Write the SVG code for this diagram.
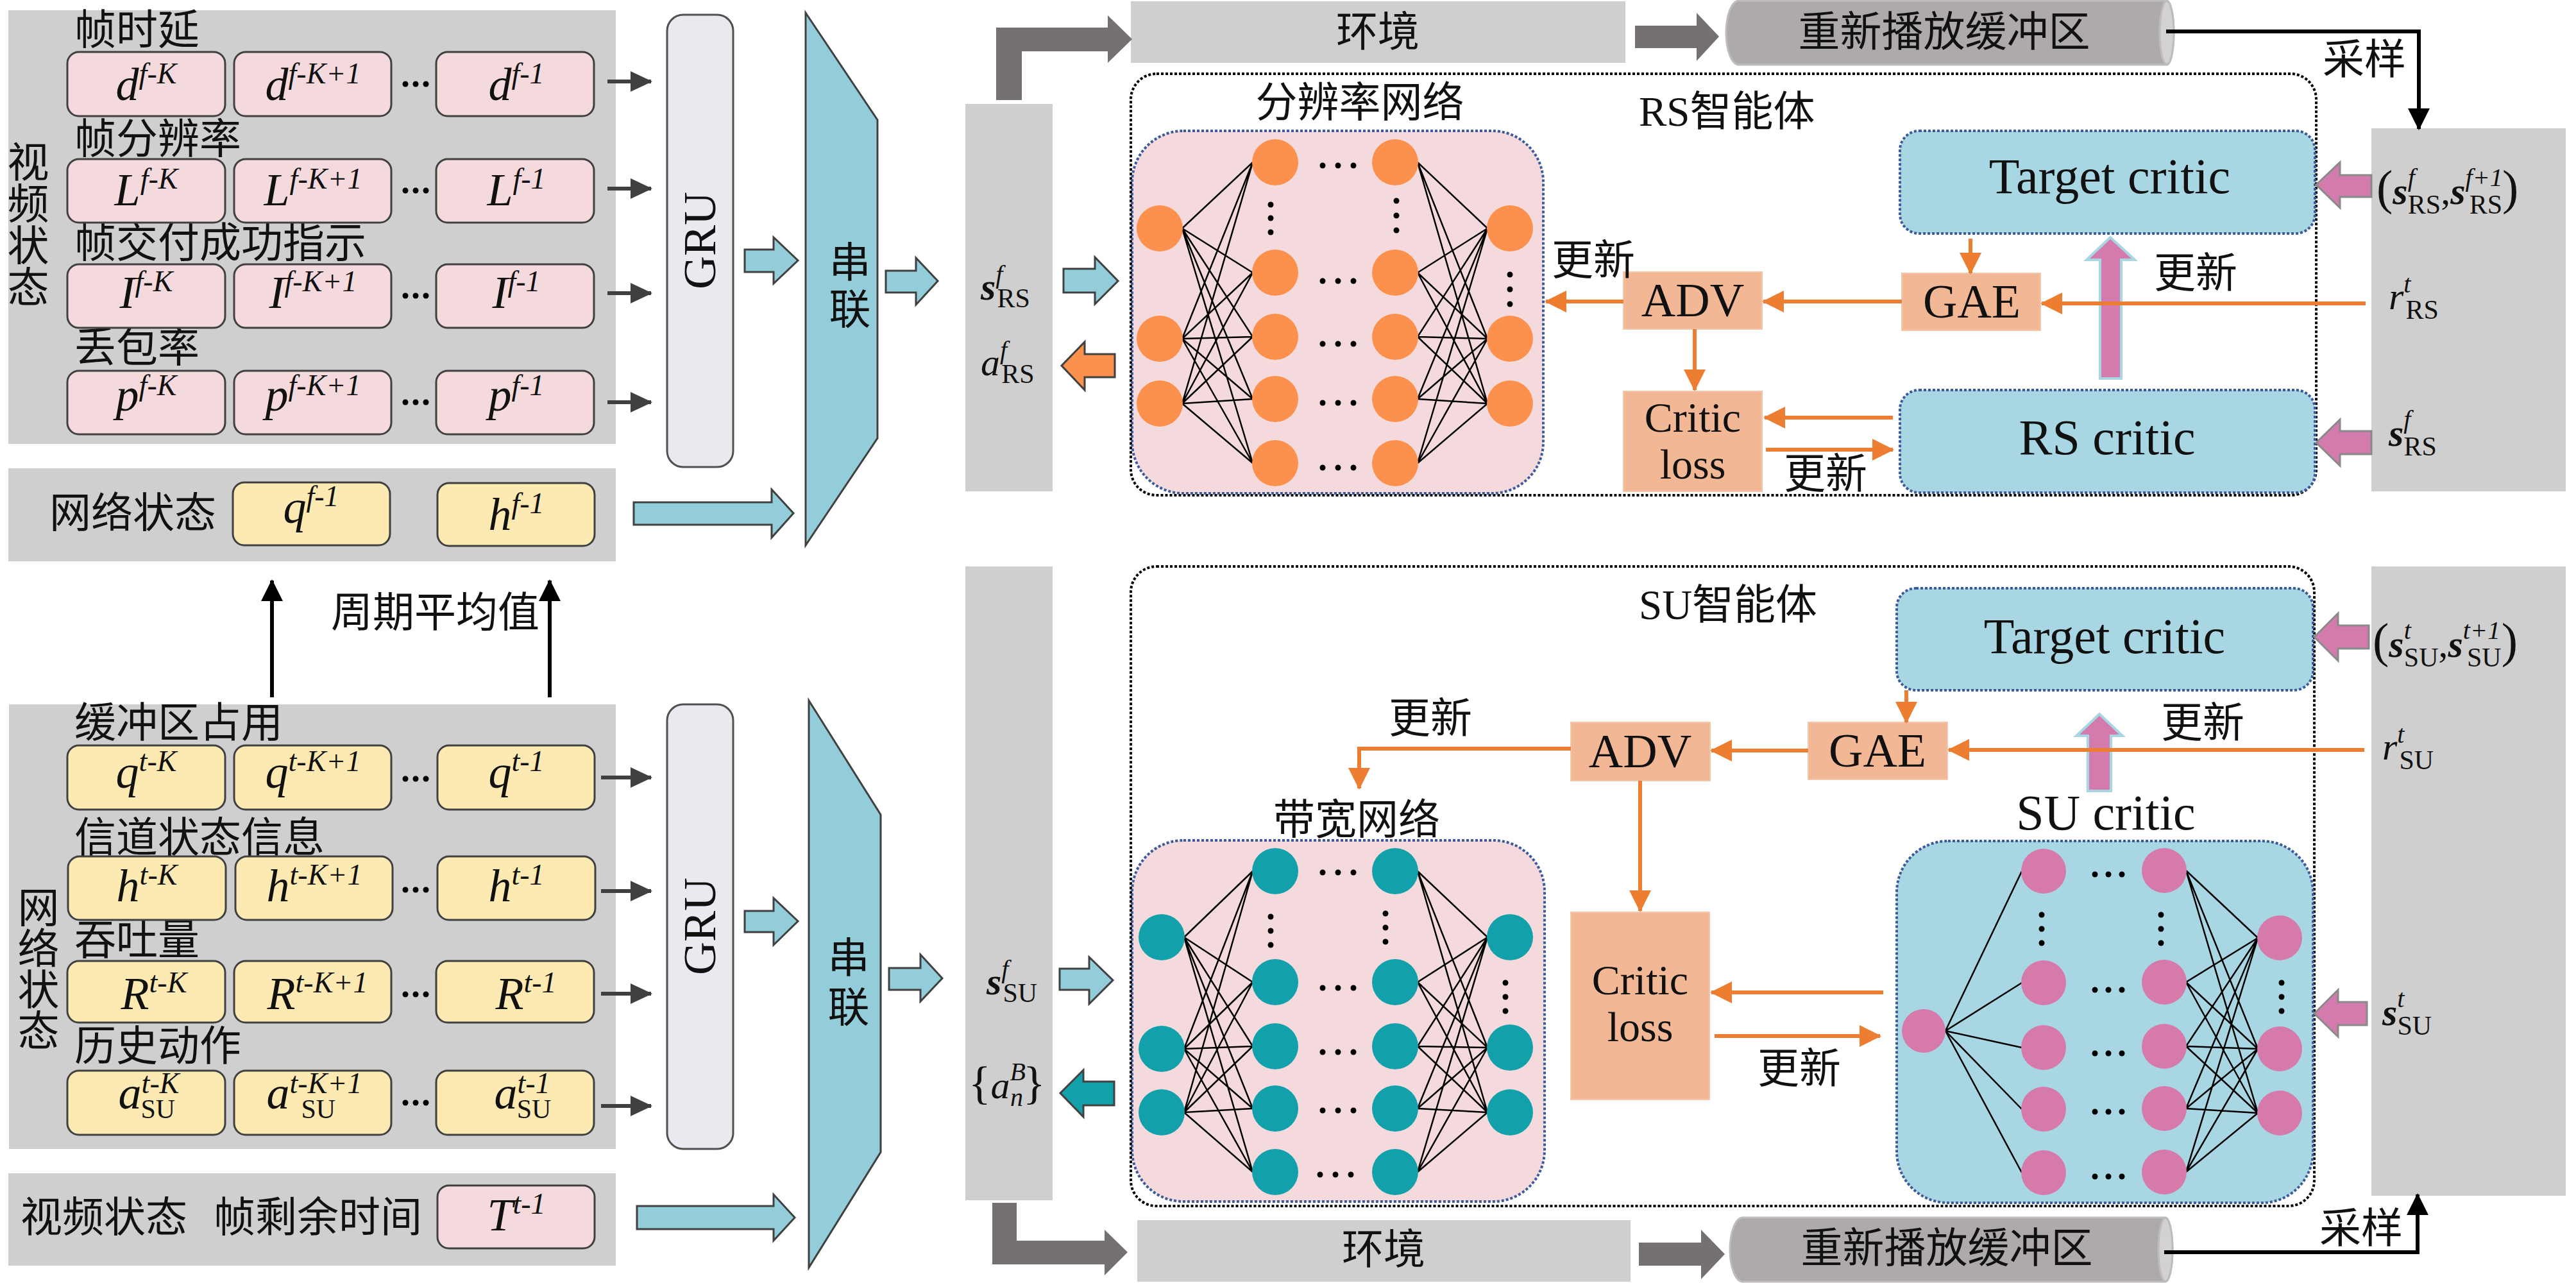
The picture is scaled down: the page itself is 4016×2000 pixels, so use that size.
<svg xmlns="http://www.w3.org/2000/svg" width="4016" height="2000" viewBox="0 0 4016 2000">
<defs>
<style>
.pn{fill:#d0cfd0}
.bp{fill:#f4dadd;stroke:#404040;stroke-width:3}
.by{fill:#fdeab3;stroke:#404040;stroke-width:3}
.gru{fill:#ece8ef;stroke:#505050;stroke-width:3}
.cn{font-family:"Liberation Serif","Noto Sans CJK SC",serif;font-size:65px;fill:#111}
.lat{font-family:"Liberation Serif","Noto Sans CJK SC",serif;fill:#111}
.m{font-family:"Liberation Serif",serif;font-size:72px;font-style:italic;fill:#111}
.m2{font-family:"Liberation Serif",serif;font-size:60px;font-style:italic;fill:#111}
.sp{font-size:46px}
.sp2{font-size:40px}
.sb{font-size:42px;font-style:normal}
.up{font-style:normal}
.ca{fill:#93cdd9;stroke:#404040;stroke-width:3}
.dg{fill:#767171}
.ar{stroke:#404040;stroke-width:6;fill:none;marker-end:url(#ah)}
.bk{stroke:#000;stroke-width:6;fill:none;marker-end:url(#bh)}
.oc{stroke:#ed7d31;stroke-width:6;fill:none;marker-end:url(#oh)}
.ob{fill:#f2b896;stroke:#f4c7aa;stroke-width:2}
.tc{fill:#a8d7e3;stroke:#3c5a9a;stroke-width:4;stroke-dasharray:4 3}
.nnp{fill:#f4dadd;stroke:#3c5a9a;stroke-width:4;stroke-dasharray:4 3}
.ag{fill:none;stroke:#000;stroke-width:4;stroke-dasharray:4 3}
.no{fill:#fb914c}
.nt{fill:#12a0ab}
.nk{fill:#d57aaa}
.nl{stroke:#000;stroke-width:2.5;fill:none}
.pa{fill:#d47bad;stroke:#8a8a8a;stroke-width:3}
.pu{fill:#d47bad;stroke:#a8d7e3;stroke-width:4}
.cyl{fill:#aeaaaa;stroke:#bdbdbd;stroke-width:3}
.cap{fill:#d3d1d1;stroke:#bdbdbd;stroke-width:3}
</style>
<marker id="ah" markerUnits="userSpaceOnUse" markerWidth="34" markerHeight="32" refX="32" refY="16" orient="auto"><path d="M0,0L34,16L0,32Z" fill="#404040"/></marker>
<marker id="bh" markerUnits="userSpaceOnUse" markerWidth="34" markerHeight="34" refX="32" refY="17" orient="auto"><path d="M0,0L34,17L0,34Z" fill="#000"/></marker>
<marker id="oh" markerUnits="userSpaceOnUse" markerWidth="34" markerHeight="34" refX="32" refY="17" orient="auto"><path d="M0,0L34,17L0,34Z" fill="#ed7d31"/></marker>
</defs>
<rect width="4016" height="2000" fill="#fff"/>

<!-- ===== Left top: video state panel ===== -->
<g id="video-state-panel">
<rect class="pn" x="13" y="16" width="947" height="676"/>
<text class="cn" text-anchor="middle"><tspan x="44" y="276">视</tspan><tspan x="44" y="341">频</tspan><tspan x="44" y="406">状</tspan><tspan x="44" y="471">态</tspan></text>
<text class="cn" x="116" y="69">帧时延</text>
<text class="cn" x="116" y="239">帧分辨率</text>
<text class="cn" x="116" y="401">帧交付成功指示</text>
<text class="cn" x="116" y="564">丢包率</text>
</g>
<g id="row-d">
<rect class="bp" x="105" y="81" width="246" height="100" rx="18"/>
<rect class="bp" x="365" y="81" width="245" height="100" rx="18"/>
<rect class="bp" x="680" y="81" width="246" height="100" rx="18"/>
<text class="m" x="228" y="156" text-anchor="middle">d<tspan class="sp" dy="-26">f-K</tspan></text>
<text class="m" x="488" y="156" text-anchor="middle">d<tspan class="sp" dy="-26">f-K+1</tspan></text>
<text class="m" x="805" y="156" text-anchor="middle">d<tspan class="sp" dy="-26">f-1</tspan></text>
<circle cx="632" cy="131" r="4.5"/><circle cx="648" cy="131" r="4.5"/><circle cx="664" cy="131" r="4.5"/>
</g>
<g id="row-L">
<rect class="bp" x="105" y="248" width="246" height="99" rx="18"/>
<rect class="bp" x="365" y="248" width="245" height="99" rx="18"/>
<rect class="bp" x="680" y="248" width="246" height="99" rx="18"/>
<text class="m" x="228" y="320" text-anchor="middle">L<tspan class="sp" dy="-26">f-K</tspan></text>
<text class="m" x="488" y="320" text-anchor="middle">L<tspan class="sp" dy="-26">f-K+1</tspan></text>
<text class="m" x="805" y="320" text-anchor="middle">L<tspan class="sp" dy="-26">f-1</tspan></text>
<circle cx="632" cy="297" r="4.5"/><circle cx="648" cy="297" r="4.5"/><circle cx="664" cy="297" r="4.5"/>
</g>
<g id="row-I">
<rect class="bp" x="105" y="412" width="246" height="99" rx="18"/>
<rect class="bp" x="365" y="412" width="245" height="99" rx="18"/>
<rect class="bp" x="680" y="412" width="246" height="99" rx="18"/>
<text class="m" x="228" y="480" text-anchor="middle">I<tspan class="sp" dy="-26">f-K</tspan></text>
<text class="m" x="488" y="480" text-anchor="middle">I<tspan class="sp" dy="-26">f-K+1</tspan></text>
<text class="m" x="805" y="480" text-anchor="middle">I<tspan class="sp" dy="-26">f-1</tspan></text>
<circle cx="632" cy="461" r="4.5"/><circle cx="648" cy="461" r="4.5"/><circle cx="664" cy="461" r="4.5"/>
</g>
<g id="row-p">
<rect class="bp" x="105" y="578" width="246" height="99" rx="18"/>
<rect class="bp" x="365" y="578" width="245" height="99" rx="18"/>
<rect class="bp" x="680" y="578" width="246" height="99" rx="18"/>
<text class="m" x="228" y="640" text-anchor="middle">p<tspan class="sp" dy="-24">f-K</tspan></text>
<text class="m" x="488" y="640" text-anchor="middle">p<tspan class="sp" dy="-24">f-K+1</tspan></text>
<text class="m" x="805" y="640" text-anchor="middle">p<tspan class="sp" dy="-24">f-1</tspan></text>
<circle cx="632" cy="627" r="4.5"/><circle cx="648" cy="627" r="4.5"/><circle cx="664" cy="627" r="4.5"/>
</g>

<!-- network state (top) -->
<g id="net-state-top">
<rect class="pn" x="13" y="730" width="947" height="145"/>
<text class="cn" x="77" y="822">网络状态</text>
<rect class="by" x="363" y="752" width="245" height="98" rx="18"/>
<rect class="by" x="682" y="753" width="245" height="98" rx="18"/>
<text class="m" x="485" y="815" text-anchor="middle">q<tspan class="sp" dy="-26">f-1</tspan></text>
<text class="m" x="805" y="826" text-anchor="middle">h<tspan class="sp" dy="-26">f-1</tspan></text>
</g>

<g id="avg-label">
<text class="cn" x="516" y="977">周期平均值</text>
</g>

<!-- ===== Left bottom: network state panel ===== -->
<g id="net-state-panel">
<rect class="pn" x="14" y="1098" width="946" height="693"/>
<text class="cn" text-anchor="middle"><tspan x="60" y="1438">网</tspan><tspan x="60" y="1502">络</tspan><tspan x="60" y="1566">状</tspan><tspan x="60" y="1630">态</tspan></text>
<text class="cn" x="116" y="1149">缓冲区占用</text>
<text class="cn" x="116" y="1328">信道状态信息</text>
<text class="cn" x="116" y="1488">吞吐量</text>
<text class="cn" x="116" y="1653">历史动作</text>
</g>
<g id="row-q">
<rect class="by" x="105" y="1162" width="246" height="100" rx="18"/>
<rect class="by" x="365" y="1162" width="245" height="100" rx="18"/>
<rect class="by" x="682" y="1162" width="245" height="100" rx="18"/>
<text class="m" x="228" y="1228" text-anchor="middle">q<tspan class="sp" dy="-26">t-K</tspan></text>
<text class="m" x="488" y="1228" text-anchor="middle">q<tspan class="sp" dy="-26">t-K+1</tspan></text>
<text class="m" x="805" y="1228" text-anchor="middle">q<tspan class="sp" dy="-26">t-1</tspan></text>
<circle cx="632" cy="1214" r="4.5"/><circle cx="648" cy="1214" r="4.5"/><circle cx="664" cy="1214" r="4.5"/>
</g>
<g id="row-h">
<rect class="by" x="106" y="1335" width="246" height="99" rx="18"/>
<rect class="by" x="367" y="1335" width="245" height="99" rx="18"/>
<rect class="by" x="682" y="1335" width="246" height="99" rx="18"/>
<text class="m" x="229" y="1405" text-anchor="middle">h<tspan class="sp" dy="-26">t-K</tspan></text>
<text class="m" x="490" y="1405" text-anchor="middle">h<tspan class="sp" dy="-26">t-K+1</tspan></text>
<text class="m" x="805" y="1405" text-anchor="middle">h<tspan class="sp" dy="-26">t-1</tspan></text>
<circle cx="632" cy="1387" r="4.5"/><circle cx="648" cy="1387" r="4.5"/><circle cx="664" cy="1387" r="4.5"/>
</g>
<g id="row-R">
<rect class="by" x="105" y="1498" width="246" height="96" rx="18"/>
<rect class="by" x="365" y="1498" width="245" height="96" rx="18"/>
<rect class="by" x="680" y="1498" width="246" height="96" rx="18"/>
<text class="m" x="240" y="1573" text-anchor="middle">R<tspan class="sp" dy="-26">t-K</tspan></text>
<text class="m" x="495" y="1573" text-anchor="middle">R<tspan class="sp" dy="-26">t-K+1</tspan></text>
<text class="m" x="820" y="1573" text-anchor="middle">R<tspan class="sp" dy="-26">t-1</tspan></text>
<circle cx="632" cy="1550" r="4.5"/><circle cx="648" cy="1550" r="4.5"/><circle cx="664" cy="1550" r="4.5"/>
</g>
<g id="row-a">
<rect class="by" x="105" y="1669" width="246" height="100" rx="18"/>
<rect class="by" x="365" y="1669" width="245" height="100" rx="18"/>
<rect class="by" x="680" y="1669" width="246" height="100" rx="18"/>
<text class="m" x="232" y="1728" text-anchor="middle">a<tspan class="sp" dy="-24">t-K</tspan><tspan class="sb" dx="-60" dy="39">SU</tspan></text>
<text class="m" x="490" y="1728" text-anchor="middle">a<tspan class="sp" dy="-24">t-K+1</tspan><tspan class="sb" dx="-95" dy="39">SU</tspan></text>
<text class="m" x="815" y="1728" text-anchor="middle">a<tspan class="sp" dy="-24">t-1</tspan><tspan class="sb" dx="-52" dy="39">SU</tspan></text>
<circle cx="632" cy="1719" r="4.5"/><circle cx="648" cy="1719" r="4.5"/><circle cx="664" cy="1719" r="4.5"/>
</g>

<g id="video-state-bottom">
<rect class="pn" x="13" y="1829" width="947" height="144"/>
<text class="cn" x="32" y="1920">视频状态</text>
<text class="cn" x="333" y="1920">帧剩余时间</text>
<rect class="bp" x="682" y="1848" width="245" height="98" rx="18"/>
<text class="m" x="805" y="1918" text-anchor="middle">T<tspan class="sp" dy="-26">t-1</tspan></text>
</g>

<!-- GRU -->
<g id="gru-top">
<rect class="gru" x="1040" y="23" width="103" height="705" rx="25"/>
<text class="lat" font-size="72" text-anchor="middle" transform="translate(1115,375) rotate(-90)">GRU</text>
</g>
<g id="gru-bottom">
<rect class="gru" x="1040" y="1098" width="103" height="693" rx="25"/>
<text class="lat" font-size="72" text-anchor="middle" transform="translate(1115,1444) rotate(-90)">GRU</text>
</g>

<!-- Concat -->
<g id="concat-top">
<polygon class="ca" points="1256,20 1368,187 1368,683 1256,850"/>
<text class="cn" font-size="66" text-anchor="middle"><tspan x="1325" y="432">串</tspan><tspan x="1325" y="505">联</tspan></text>
</g>
<g id="concat-bottom">
<polygon class="ca" points="1261,1092 1373,1270 1373,1796 1261,1976"/>
<text class="cn" font-size="66" text-anchor="middle"><tspan x="1323" y="1516">串</tspan><tspan x="1323" y="1593">联</tspan></text>
</g>

<!-- State columns -->
<g id="state-rs">
<rect class="pn" x="1505" y="162" width="136" height="604"/>
<text class="m2" x="1529" y="467"><tspan font-weight="bold">s</tspan><tspan class="sp2" dy="-26">f</tspan><tspan class="sb" dx="-9" dy="38">RS</tspan></text>
<text class="m2" x="1529" y="585">a<tspan class="sp2" dy="-26">f</tspan><tspan class="sb" dx="-9" dy="38">RS</tspan></text>
</g>
<g id="state-su">
<rect class="pn" x="1505" y="883" width="136" height="988"/>
<text class="m2" x="1538" y="1550"><tspan font-weight="bold">s</tspan><tspan class="sp2" dy="-26">f</tspan><tspan class="sb" dx="-9" dy="38">SU</tspan></text>
<text class="m2" x="1510" y="1712"><tspan class="up" font-size="72">{</tspan>a<tspan class="sp2" dy="-28">B</tspan><tspan class="sp2" dx="-24" dy="40">n</tspan><tspan class="up" font-size="72" dy="-12">}</tspan></text>
</g>

<!-- Environment & replay buffers -->
<g id="env-top">
<rect class="pn" x="1763" y="2" width="771" height="96"/>
<text class="cn" x="2148" y="72" text-anchor="middle">环境</text>
</g>
<g id="buffer-top">
<path class="cyl" d="M2711,1 H3378 A11,50 0 0 1 3378,101 H2711 A20,50 0 0 1 2711,1 Z"/>
<ellipse class="cap" cx="3378" cy="51" rx="11" ry="49"/>
<text class="cn" x="3031" y="72" text-anchor="middle">重新播放缓冲区</text>
</g>
<g id="env-bottom">
<rect class="pn" x="1773" y="1902" width="769" height="96"/>
<text class="cn" x="2157" y="1970" text-anchor="middle">环境</text>
</g>
<g id="buffer-bottom">
<path class="cyl" d="M2717,1898 H3376 A11,50 0 0 1 3376,1998 H2717 A20,50 0 0 1 2717,1898 Z"/>
<ellipse class="cap" cx="3376" cy="1948" rx="11" ry="49"/>
<text class="cn" x="3035" y="1968" text-anchor="middle">重新播放缓冲区</text>
</g>
<text class="cn" x="3621" y="115">采样</text>
<text class="cn" x="3616" y="1937">采样</text>

<!-- Right sample columns -->
<g id="sample-rs">
<rect class="pn" x="3697" y="200" width="303" height="566"/>
<text class="m2" x="3705" y="318"><tspan class="up" font-size="76">(</tspan><tspan font-weight="bold">s</tspan><tspan class="sp2" dy="-28">f</tspan><tspan class="sb" dx="-11" dy="43">RS</tspan><tspan class="up" dy="-15">,</tspan><tspan font-weight="bold">s</tspan><tspan class="sp2" dy="-28">f+1</tspan><tspan class="sb" dx="-52" dy="43">RS</tspan><tspan class="up" font-size="76" dy="-15">)</tspan></text>
<text class="m2" x="3724" y="482">r<tspan class="sp2" dy="-26">t</tspan><tspan class="sb" dx="-8" dy="41">RS</tspan></text>
<text class="m2" x="3724" y="695"><tspan font-weight="bold">s</tspan><tspan class="sp2" dy="-28">f</tspan><tspan class="sb" dx="-11" dy="43">RS</tspan></text>
</g>
<g id="sample-su">
<rect class="pn" x="3697" y="883" width="303" height="981"/>
<text class="m2" x="3699" y="1024"><tspan class="up" font-size="76">(</tspan><tspan font-weight="bold">s</tspan><tspan class="sp2" dy="-28">t</tspan><tspan class="sb" dx="-11" dy="43">SU</tspan><tspan class="up" dy="-15">,</tspan><tspan font-weight="bold">s</tspan><tspan class="sp2" dy="-28">t+1</tspan><tspan class="sb" dx="-52" dy="43">SU</tspan><tspan class="up" font-size="76" dy="-15">)</tspan></text>
<text class="m2" x="3714" y="1184">r<tspan class="sp2" dy="-26">t</tspan><tspan class="sb" dx="-8" dy="41">SU</tspan></text>
<text class="m2" x="3714" y="1598"><tspan font-weight="bold">s</tspan><tspan class="sp2" dy="-28">t</tspan><tspan class="sb" dx="-11" dy="43">SU</tspan></text>
</g>

<!-- ===== RS agent ===== -->
<g id="rs-agent">
<rect class="ag" x="1763" y="115" width="1848" height="657" rx="40"/>
<text class="cn" x="2555" y="196">RS智能体</text>
</g>
<g id="rs-net">
<text class="cn" x="2120" y="182" text-anchor="middle">分辨率网络</text>
<rect class="nnp" x="1765" y="204" width="641" height="565" rx="80"/>
<path class="nl" d="M1843 356L1953 253M1843 356L1953 425M1843 356L1953 525M1843 356L1953 622M1843 356L1953 722M1843 528L1953 253M1843 528L1953 425M1843 528L1953 525M1843 528L1953 622M1843 528L1953 722M1843 629L1953 253M1843 629L1953 425M1843 629L1953 525M1843 629L1953 622M1843 629L1953 722M2210 253L2319 356M2210 425L2319 356M2210 525L2319 356M2210 622L2319 356M2210 722L2319 356M2210 253L2319 528M2210 425L2319 528M2210 525L2319 528M2210 622L2319 528M2210 722L2319 528M2210 253L2319 629M2210 425L2319 629M2210 525L2319 629M2210 622L2319 629M2210 722L2319 629"/>
<g class="no">
<circle cx="1808" cy="356" r="36"/><circle cx="1808" cy="528" r="36"/><circle cx="1808" cy="629" r="36"/>
<circle cx="1988" cy="253" r="36"/><circle cx="1988" cy="425" r="36"/><circle cx="1988" cy="525" r="36"/><circle cx="1988" cy="622" r="36"/><circle cx="1988" cy="722" r="36"/>
<circle cx="2175" cy="253" r="36"/><circle cx="2175" cy="425" r="36"/><circle cx="2175" cy="525" r="36"/><circle cx="2175" cy="622" r="36"/><circle cx="2175" cy="722" r="36"/>
<circle cx="2354" cy="356" r="36"/><circle cx="2354" cy="528" r="36"/><circle cx="2354" cy="629" r="36"/>
</g>
<g fill="#000">
<circle cx="2062" cy="258" r="4.5"/><circle cx="2086" cy="258" r="4.5"/><circle cx="2110" cy="258" r="4.5"/>
<circle cx="2062" cy="438" r="4.5"/><circle cx="2086" cy="438" r="4.5"/><circle cx="2110" cy="438" r="4.5"/>
<circle cx="2062" cy="536" r="4.5"/><circle cx="2086" cy="536" r="4.5"/><circle cx="2110" cy="536" r="4.5"/>
<circle cx="2062" cy="628" r="4.5"/><circle cx="2086" cy="628" r="4.5"/><circle cx="2110" cy="628" r="4.5"/>
<circle cx="2062" cy="729" r="4.5"/><circle cx="2086" cy="729" r="4.5"/><circle cx="2110" cy="729" r="4.5"/>
<circle cx="1981" cy="319" r="4.5"/><circle cx="1981" cy="340" r="4.5"/><circle cx="1981" cy="362" r="4.5"/>
<circle cx="2177" cy="313" r="4.5"/><circle cx="2177" cy="336" r="4.5"/><circle cx="2177" cy="359" r="4.5"/>
<circle cx="2354" cy="428" r="4.5"/><circle cx="2354" cy="451" r="4.5"/><circle cx="2354" cy="474" r="4.5"/>
</g>
</g>
<g id="rs-target-critic">
<rect class="tc" x="2962" y="204" width="647" height="160" rx="30"/>
<text class="lat" font-size="78" x="3289" y="301" text-anchor="middle">Target critic</text>
</g>
<g id="rs-critic">
<rect class="tc" x="2962" y="608" width="647" height="160" rx="30"/>
<text class="lat" font-size="78" x="3285" y="708" text-anchor="middle">RS critic</text>
</g>
<g id="rs-gae">
<rect class="ob" x="2965" y="426" width="216" height="89"/>
<text class="lat" font-size="74" x="3074" y="495" text-anchor="middle">GAE</text>
</g>
<g id="rs-adv">
<rect class="ob" x="2531" y="424" width="216" height="89"/>
<text class="lat" font-size="74" x="2639" y="493" text-anchor="middle">ADV</text>
</g>
<g id="rs-critic-loss">
<rect class="ob" x="2531" y="610" width="216" height="156"/>
<text class="lat" font-size="66" text-anchor="middle"><tspan x="2639" y="673">Critic</tspan><tspan x="2639" y="746">loss</tspan></text>
</g>

<!-- ===== SU agent ===== -->
<g id="su-agent">
<rect class="ag" x="1763" y="883" width="1845" height="997" rx="40"/>
<text class="cn" x="2555" y="965">SU智能体</text>
</g>
<g id="su-net">
<text class="cn" x="2115" y="1300" text-anchor="middle">带宽网络</text>
<rect class="nnp" x="1765" y="1310" width="643" height="563" rx="80"/>
<path class="nl" d="M1846 1461L1953 1358M1846 1461L1953 1531M1846 1461L1953 1631M1846 1461L1953 1728M1846 1461L1953 1827M1846 1635L1953 1358M1846 1635L1953 1531M1846 1635L1953 1631M1846 1635L1953 1728M1846 1635L1953 1827M1846 1734L1953 1358M1846 1734L1953 1531M1846 1734L1953 1631M1846 1734L1953 1728M1846 1734L1953 1827M2210 1358L2319 1461M2210 1531L2319 1461M2210 1631L2319 1461M2210 1728L2319 1461M2210 1827L2319 1461M2210 1358L2319 1633M2210 1531L2319 1633M2210 1631L2319 1633M2210 1728L2319 1633M2210 1827L2319 1633M2210 1358L2319 1734M2210 1531L2319 1734M2210 1631L2319 1734M2210 1728L2319 1734M2210 1827L2319 1734"/>
<g class="nt">
<circle cx="1811" cy="1461" r="36"/><circle cx="1811" cy="1635" r="36"/><circle cx="1811" cy="1734" r="36"/>
<circle cx="1988" cy="1358" r="36"/><circle cx="1988" cy="1531" r="36"/><circle cx="1988" cy="1631" r="36"/><circle cx="1988" cy="1728" r="36"/><circle cx="1988" cy="1827" r="36"/>
<circle cx="2175" cy="1358" r="36"/><circle cx="2175" cy="1531" r="36"/><circle cx="2175" cy="1631" r="36"/><circle cx="2175" cy="1728" r="36"/><circle cx="2175" cy="1827" r="36"/>
<circle cx="2354" cy="1461" r="36"/><circle cx="2354" cy="1633" r="36"/><circle cx="2354" cy="1734" r="36"/>
</g>
<g fill="#000">
<circle cx="2062" cy="1360" r="4.5"/><circle cx="2086" cy="1360" r="4.5"/><circle cx="2110" cy="1360" r="4.5"/>
<circle cx="2062" cy="1540" r="4.5"/><circle cx="2086" cy="1540" r="4.5"/><circle cx="2110" cy="1540" r="4.5"/>
<circle cx="2062" cy="1640" r="4.5"/><circle cx="2086" cy="1640" r="4.5"/><circle cx="2110" cy="1640" r="4.5"/>
<circle cx="2062" cy="1731" r="4.5"/><circle cx="2086" cy="1731" r="4.5"/><circle cx="2110" cy="1731" r="4.5"/>
<circle cx="2058" cy="1831" r="4.5"/><circle cx="2082" cy="1831" r="4.5"/><circle cx="2106" cy="1831" r="4.5"/>
<circle cx="1981" cy="1429" r="4.5"/><circle cx="1981" cy="1451" r="4.5"/><circle cx="1981" cy="1473" r="4.5"/>
<circle cx="2160" cy="1424" r="4.5"/><circle cx="2160" cy="1446" r="4.5"/><circle cx="2160" cy="1468" r="4.5"/>
<circle cx="2347" cy="1532" r="4.5"/><circle cx="2347" cy="1554" r="4.5"/><circle cx="2347" cy="1576" r="4.5"/>
</g>
</g>
<g id="su-target-critic">
<rect class="tc" x="2957" y="917" width="649" height="159" rx="30"/>
<text class="lat" font-size="78" x="3281" y="1018" text-anchor="middle">Target critic</text>
</g>
<g id="su-gae">
<rect class="ob" x="2819" y="1126" width="217" height="89"/>
<text class="lat" font-size="74" x="2927" y="1195" text-anchor="middle">GAE</text>
</g>
<g id="su-adv">
<rect class="ob" x="2449" y="1126" width="217" height="91"/>
<text class="lat" font-size="74" x="2557" y="1196" text-anchor="middle">ADV</text>
</g>
<g id="su-critic-loss">
<rect class="ob" x="2449" y="1422" width="216" height="292"/>
<text class="lat" font-size="66" text-anchor="middle"><tspan x="2557" y="1550">Critic</tspan><tspan x="2557" y="1623">loss</tspan></text>
</g>
<g id="su-critic">
<text class="lat" font-size="78" x="3283" y="1293" text-anchor="middle">SU critic</text>
<rect class="tc" x="2957" y="1311" width="649" height="564" rx="80"/>
<path class="nl" d="M3033 1607L3152 1358M3033 1607L3152 1532M3033 1607L3152 1633M3033 1607L3152 1729M3033 1607L3152 1828M3408 1357L3520 1462M3408 1531L3520 1462M3408 1631L3520 1462M3408 1728L3520 1462M3408 1827L3520 1462M3408 1357L3520 1635M3408 1531L3520 1635M3408 1631L3520 1635M3408 1728L3520 1635M3408 1827L3520 1635M3408 1357L3520 1735M3408 1531L3520 1735M3408 1631L3520 1735M3408 1728L3520 1735M3408 1827L3520 1735"/>
<g class="nk">
<circle cx="2999" cy="1607" r="34"/>
<circle cx="3186" cy="1358" r="35"/><circle cx="3186" cy="1532" r="35"/><circle cx="3186" cy="1633" r="35"/><circle cx="3186" cy="1729" r="35"/><circle cx="3186" cy="1828" r="35"/>
<circle cx="3374" cy="1357" r="35"/><circle cx="3374" cy="1531" r="35"/><circle cx="3374" cy="1631" r="35"/><circle cx="3374" cy="1728" r="35"/><circle cx="3374" cy="1827" r="35"/>
<circle cx="3554" cy="1462" r="35"/><circle cx="3554" cy="1635" r="35"/><circle cx="3554" cy="1735" r="35"/>
</g>
<g fill="#000">
<circle cx="3266" cy="1363" r="4.5"/><circle cx="3287" cy="1363" r="4.5"/><circle cx="3308" cy="1363" r="4.5"/>
<circle cx="3266" cy="1543" r="4.5"/><circle cx="3287" cy="1543" r="4.5"/><circle cx="3308" cy="1543" r="4.5"/>
<circle cx="3266" cy="1642" r="4.5"/><circle cx="3287" cy="1642" r="4.5"/><circle cx="3308" cy="1642" r="4.5"/>
<circle cx="3266" cy="1733" r="4.5"/><circle cx="3287" cy="1733" r="4.5"/><circle cx="3308" cy="1733" r="4.5"/>
<circle cx="3266" cy="1834" r="4.5"/><circle cx="3287" cy="1834" r="4.5"/><circle cx="3308" cy="1834" r="4.5"/>
<circle cx="3183" cy="1426" r="4.5"/><circle cx="3183" cy="1448" r="4.5"/><circle cx="3183" cy="1470" r="4.5"/>
<circle cx="3369" cy="1426" r="4.5"/><circle cx="3369" cy="1448" r="4.5"/><circle cx="3369" cy="1470" r="4.5"/>
<circle cx="3557" cy="1532" r="4.5"/><circle cx="3557" cy="1554" r="4.5"/><circle cx="3557" cy="1576" r="4.5"/>
</g>
</g>

<!-- update labels -->
<g id="update-labels">
<text class="cn" x="2419" y="428">更新</text>
<text class="cn" x="3358" y="448">更新</text>
<text class="cn" x="2781" y="761">更新</text>
<text class="cn" x="2165" y="1142">更新</text>
<text class="cn" x="3369" y="1149">更新</text>
<text class="cn" x="2740" y="1688">更新</text>
</g>

<!-- ===== Connectors ===== -->
<g id="connectors">
<path class="ar" d="M947,127H1015"/>
<path class="ar" d="M947,294H1015"/>
<path class="ar" d="M947,457H1015"/>
<path class="ar" d="M947,627H1015"/>
<path class="ar" d="M937,1212H1015"/>
<path class="ar" d="M937,1389H1015"/>
<path class="ar" d="M937,1549H1015"/>
<path class="ar" d="M937,1724H1015"/>
<path class="bk" d="M424,1087V905"/>
<path class="bk" d="M857,1087V905"/>
<path class="ca" d="M1161,389H1206V370L1244,406L1206,442V424H1161Z"/>
<path class="ca" d="M1381,422H1428V402L1462,438L1428,475V456H1381Z"/>
<path class="ca" d="M1658,419H1707V401L1743,438L1707,474V456H1658Z"/>
<path class="ca" d="M988,783H1203V763L1237,800L1203,838V818H988Z"/>
<path class="ca" d="M1161,1420H1206V1400L1244,1436L1206,1473V1453H1161Z"/>
<path class="ca" d="M1386,1509H1435V1488L1469,1525L1435,1561V1543H1386Z"/>
<path class="ca" d="M1652,1510H1698V1492L1735,1528L1698,1565V1543H1652Z"/>
<path class="ca" d="M993,1880H1206V1862L1239,1898L1206,1934V1916H993Z"/>
<path d="M1738,552H1691V533L1655,570L1691,608V588H1738Z" fill="#fb914c" stroke="#404040" stroke-width="3"/>
<path d="M1737,1686H1689V1668L1653,1704L1689,1741V1723H1737Z" fill="#12a0ab" stroke="#404040" stroke-width="3"/>
<path class="dg" d="M1553,156V43H1727V24L1765,61L1727,98V80H1593V156Z"/>
<path class="dg" d="M2549,40H2645V20L2680,57L2645,95V75H2549Z"/>
<path class="dg" d="M1547,1875H1585V1934H1722V1917L1758,1952L1722,1988V1971H1547Z"/>
<path class="dg" d="M2555,1937H2652V1917L2689,1955L2652,1994V1973H2555Z"/>
<path class="bk" d="M3377,49H3771V201"/>
<path class="bk" d="M3374,1952H3769V1862"/>
<path class="pa" d="M3697,273V307H3648V324L3611,288L3648,253V273Z"/>
<path class="pa" d="M3697,672V708H3648V726L3611,690L3648,654V672Z"/>
<path class="pa" d="M3693,975V1011H3645V1030L3608,993L3645,956V975Z"/>
<path class="pa" d="M3690,1562V1598H3645V1616L3608,1580L3645,1543V1562Z"/>
<path class="pu" d="M3274,590V405H3253L3290,370L3328,405H3307V590Z"/>
<path class="pu" d="M3255,1233V1147H3237L3273,1113L3309,1147H3291V1233Z"/>
<path class="oc" d="M3072,372V426"/>
<path class="oc" d="M3688,473H3183"/>
<path class="oc" d="M2965,470H2749"/>
<path class="oc" d="M2531,470H2410"/>
<path class="oc" d="M2642,513V608"/>
<path class="oc" d="M2951,651H2751"/>
<path class="oc" d="M2753,701H2951"/>
<path class="oc" d="M2972,1076V1126"/>
<path class="oc" d="M3686,1169H3038"/>
<path class="oc" d="M2819,1170H2668"/>
<path class="oc" d="M2449,1167H2119V1229"/>
<path class="oc" d="M2557,1217V1420"/>
<path class="oc" d="M2936,1547H2668"/>
<path class="oc" d="M2673,1615H2931"/>
</g>
</svg>
